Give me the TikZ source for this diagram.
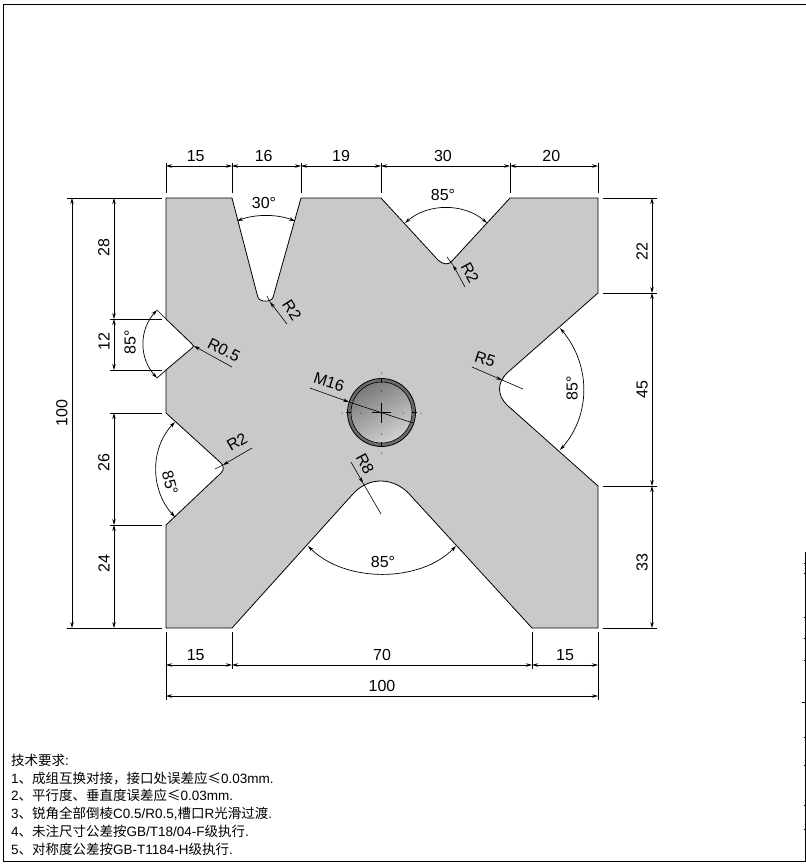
\documentclass[tikz,border=0pt]{standalone}
\usepackage{fontspec}
\setmainfont{Liberation Sans}
\newfontfamily\cjk{Noto Sans CJK SC}
\usetikzlibrary{arrows.meta}
\tikzset{
  partline/.style={draw=black,line width=0.8pt},
  dimline/.style={draw=black,line width=0.7pt,{Stealth[length=6pt,width=3.5pt]}-{Stealth[length=6pt,width=3.5pt]}},
  extline/.style={draw=black,line width=0.7pt},
  leader/.style={draw=black,line width=0.6pt},
  pointer/.style={draw=black,line width=0.6pt,-{Stealth[length=6pt,width=3.5pt]}},
  dimtext/.style={font=\fontsize{16}{16}\selectfont,inner sep=2pt},
  notetext/.style={font=\fontsize{13.5}{13.5}\selectfont,anchor=west,inner sep=0pt},
}
\begin{document}
\begin{tikzpicture}[x=1pt,y=-1pt]
        \useasboundingbox (0,0) rectangle (806,865);

        % frame
        \draw[line width=0.8pt] (806,4) -- (3,4) -- (3,861.5) -- (806,861.5);
        \draw[line width=0.8pt] (805,552) -- (805,861.5);
        \foreach \y in {563,573,617,638,660,737,765,805,829}
          \draw[line width=0.6pt] (803.5,\y) -- (806,\y);
        \draw[line width=0.6pt] (802,702) -- (806,702);

        % part
        \draw[partline,fill=gray!42] (166,198) -- (232,198) -- (257,294)
          .. controls (258,299) and (260,301) .. (263,301) -- (268,301)
          .. controls (271,301) and (273,299) .. (274,294) -- (301,198)
          -- (381,198) -- (438,260)
          .. controls (443,265) and (449,265) .. (452,261) -- (510,198)
          -- (598,198) -- (598,293) -- (507,373)
          .. controls (497,383) and (497,395) .. (507,405) -- (598,486)
          -- (598,628) -- (532,628) -- (412,497)
          .. controls (395,476) and (368,476) .. (352,495) -- (232,628)
          -- (166,628) -- (166,525) -- (221,473)
          .. controls (224,470) and (224,466) .. (221,463) -- (166,413)
          -- (166,370) -- (192,348)
          .. controls (194,346.5) and (194,345.5) .. (192,344) -- (166,319) -- cycle;

        % hole
        \fill[black!58] (381.5,412.5) circle (34);
        \shade[left color=black!52,right color=black!18,shading angle=30] (381.5,412.5) circle (30.5);
        \draw[line width=0.8pt] (381.5,412.5) circle (34);
        \draw[line width=0.6pt] (381.5,412.5) circle (30.5);
        \draw[line width=0.5pt] (372,412.5) -- (391,412.5) (381.5,403) -- (381.5,423);
        \draw[line width=0.5pt] (346,412.5) -- (351,412.5) (412,412.5) -- (417,412.5)
          (381.5,378) -- (381.5,383) (381.5,442) -- (381.5,447);
        \fill (342,413) circle (0.5) (361,413) circle (0.5) (403,413) circle (0.5) (421,413) circle (0.5)
          (381.5,373) circle (0.5) (381.5,391) circle (0.5) (381.5,434) circle (0.5) (381.5,453) circle (0.5);

        % extension lines
        \begin{scope}[every path/.style={extline}]
          \draw (166,163) -- (166,193);
          \draw (232,163) -- (232,193);
          \draw (301,163) -- (301,193);
          \draw (381,163) -- (381,193);
          \draw (510,163) -- (510,193);
          \draw (598,163) -- (598,193);
          \draw (166,632) -- (166,700);
          \draw (232,632) -- (232,669);
          \draw (532,632) -- (532,669);
          \draw (598,632) -- (598,700);
          \draw (67,198) -- (162,198);
          \draw (110,319) -- (162,319);
          \draw (110,370) -- (162,370);
          \draw (110,413) -- (162,413);
          \draw (110,525) -- (162,525);
          \draw (67,628) -- (162,628);
          \draw (603,198) -- (657,198);
          \draw (603,293) -- (657,293);
          \draw (603,486) -- (657,486);
          \draw (603,628) -- (657,628);
          \draw (166,319) -- (157,310);
          \draw (166,370) -- (157,378);
        \end{scope}

        % dimension ends
        \coordinate (t1) at (166,166);
        \coordinate (t2) at (232,166);
        \coordinate (t3) at (301,166);
        \coordinate (t4) at (381,166);
        \coordinate (t5) at (510,166);
        \coordinate (t6) at (598,166);
        \coordinate (b1) at (166,665);
        \coordinate (b2) at (232,665);
        \coordinate (b3) at (532,665);
        \coordinate (b4) at (598,665);
        \coordinate (w1) at (166,696);
        \coordinate (w2) at (598,696);
        \coordinate (h1) at (72,628);
        \coordinate (h2) at (72,198);
        \coordinate (l1) at (114,628);
        \coordinate (l2) at (114,525);
        \coordinate (l3) at (114,413);
        \coordinate (l4) at (114,370);
        \coordinate (l5) at (114,319);
        \coordinate (l6) at (114,198);
        \coordinate (r1) at (652,628);
        \coordinate (r2) at (652,486);
        \coordinate (r3) at (652,293);
        \coordinate (r4) at (652,198);

        \begin{scope}[every node/.style={dimtext,above,sloped,inner sep=4pt}]
          \path (t1) edge[dimline] node[pos=.45] (d15a) {15} (t2);
          \path (t2) edge[dimline] node[pos=.46] (d16) {16} (t3);
          \path (t3) edge[dimline] node (d19) {19} (t4);
          \path (t4) edge[dimline] node[pos=.48] (d30) {30} (t5);
          \path (t5) edge[dimline] node[pos=.47] (d20) {20} (t6);
          \path (b1) edge[dimline] node[pos=.45] (d15b) {15} (b2);
          \path (b2) edge[dimline] node (d70) {70} (b3);
          \path (b3) edge[dimline] node (d15c) {15} (b4);
          \path (w1) edge[dimline] node (d100a) {100} (w2);
          \path (h1) edge[dimline] node (d100b) {100} (h2);
          \path (l1) edge[dimline] node[pos=.63] (d24) {24} (l2);
          \path (l2) edge[dimline] node[pos=.56] (d26) {26} (l3);
          \path (l4) edge[dimline] node[pos=.55] (d12) {12} (l5);
          \path (l5) edge[dimline] node[pos=.59] (d28) {28} (l6);
          \path (r1) edge[dimline] node[pos=.46] (d33) {33} (r2);
          \path (r2) edge[dimline] node (d45) {45} (r3);
          \path (r3) edge[dimline] node[pos=.44] (d22) {22} (r4);
        \end{scope}

        % angles
        \coordinate (a1s) at (237,221);
        \coordinate (a1e) at (295,221);
        \coordinate (a2s) at (405,223);
        \coordinate (a2e) at (487,223);
        \coordinate (a3s) at (560,328);
        \coordinate (a3e) at (560,450);
        \coordinate (a4s) at (308,546);
        \coordinate (a4e) at (456,546);
        \coordinate (a5s) at (175,422);
        \coordinate (a5e) at (175,517);
        \coordinate (a6s) at (157,310);
        \coordinate (a6e) at (157,378);
        \draw[dimline] (a1s) .. controls (255,214) and (277,214) .. (a1e);
        \draw[dimline] (a2s) .. controls (428,203) and (464,203) .. (a2e);
        \draw[dimline] (a3s) .. controls (591,365) and (591,415) .. (a3e);
        \draw[dimline] (a4s) .. controls (345,583) and (420,583) .. (a4e);
        \draw[dimline] (a5s) .. controls (150,448) and (150,490) .. (a5e);
        \draw[dimline] (a6s) .. controls (139,330) and (139,358) .. (a6e);
        \begin{scope}[every node/.style={dimtext}]
          \node (ang1) at (264,203) {30°};
          \node (ang2) at (443,195) {85°};
          \node[rotate=90] (ang3) at (572,388) {85°};
          \node (ang4) at (383,562) {85°};
          \node[rotate=-75] (ang5) at (170,483) {85°};
          \node[rotate=90] (ang6) at (130,342) {85°};
        \end{scope}

        % radius leaders
        \coordinate (p1a) at (287,324);
        \coordinate (p1b) at (270,302);
        \coordinate (p1c) at (267,296);
        \coordinate (p2a) at (465,287);
        \coordinate (p2b) at (453,265);
        \coordinate (p2c) at (447,257);
        \coordinate (p3a) at (232,367);
        \coordinate (p3b) at (194,346);
        \coordinate (p4a) at (252,448);
        \coordinate (p4b) at (223,465);
        \coordinate (p4c) at (215,469);
        \coordinate (p5a) at (472,367);
        \coordinate (p5b) at (502,380);
        \coordinate (p5c) at (523,389);
        \coordinate (p6a) at (351,462);
        \coordinate (p6b) at (363,483);
        \coordinate (p6c) at (381,514);
        \coordinate (p7a) at (310,388);
        \coordinate (p7b) at (349,402);
        \coordinate (p7c) at (413,423);
        \draw[leader] (p1b) -- (p1c);
        \draw[pointer] (p1a) -- (p1b);
        \draw[leader] (p2b) -- (p2c);
        \draw[pointer] (p2a) -- (p2b);
        \draw[pointer] (p3a) -- (p3b);
        \draw[leader] (p4b) -- (p4c);
        \draw[pointer] (p4a) -- (p4b);
        \draw[leader] (p5b) -- (p5c);
        \draw[pointer] (p5a) -- (p5b);
        \draw[leader] (p6b) -- (p6c);
        \draw[pointer] (p6a) -- (p6b);
        \draw[leader] (p7b) -- (p7c);
        \draw[pointer] (p7a) -- (p7b);
        \begin{scope}[every node/.style={dimtext}]
          \node[rotate=-57] (rad1) at (292,310) {R2};
          \node[rotate=-62] (rad2) at (470,273) {R2};
          \node[rotate=-27] (rad3) at (224,350) {R0.5};
          \node[rotate=30] (rad4) at (237,442) {R2};
          \node[rotate=-18] (rad5) at (485,359) {R5};
          \node[rotate=-62] (rad6) at (365,464) {R8};
          \node[rotate=-18] (rad7) at (329,382) {M16};
        \end{scope}

        % notes
        \begin{scope}[every node/.style={notetext}]
          \node (n0) at (11,760.5) {{\cjk 技术要求}:};
          \node (n1) at (11,778.5) {1{\cjk 、成组互换对接，接口处误差应}{\cjk ≤}0.03mm.};
          \node (n2) at (11,795.5) {2{\cjk 、平行度、垂直度误差应}{\cjk ≤}0.03mm.};
          \node (n3) at (11,813.5) {3{\cjk 、锐角全部倒棱}C0.5/R0.5,{\cjk 槽口}R{\cjk 光滑过渡}.};
          \node (n4) at (11,831.5) {4{\cjk 、未注尺寸公差按}GB/T18/04-F{\cjk 级执行}.};
          \node (n5) at (11,849.5) {5{\cjk 、对称度公差按}GB-T1184-H{\cjk 级执行}.};
        \end{scope}

\end{tikzpicture}
\end{document}
